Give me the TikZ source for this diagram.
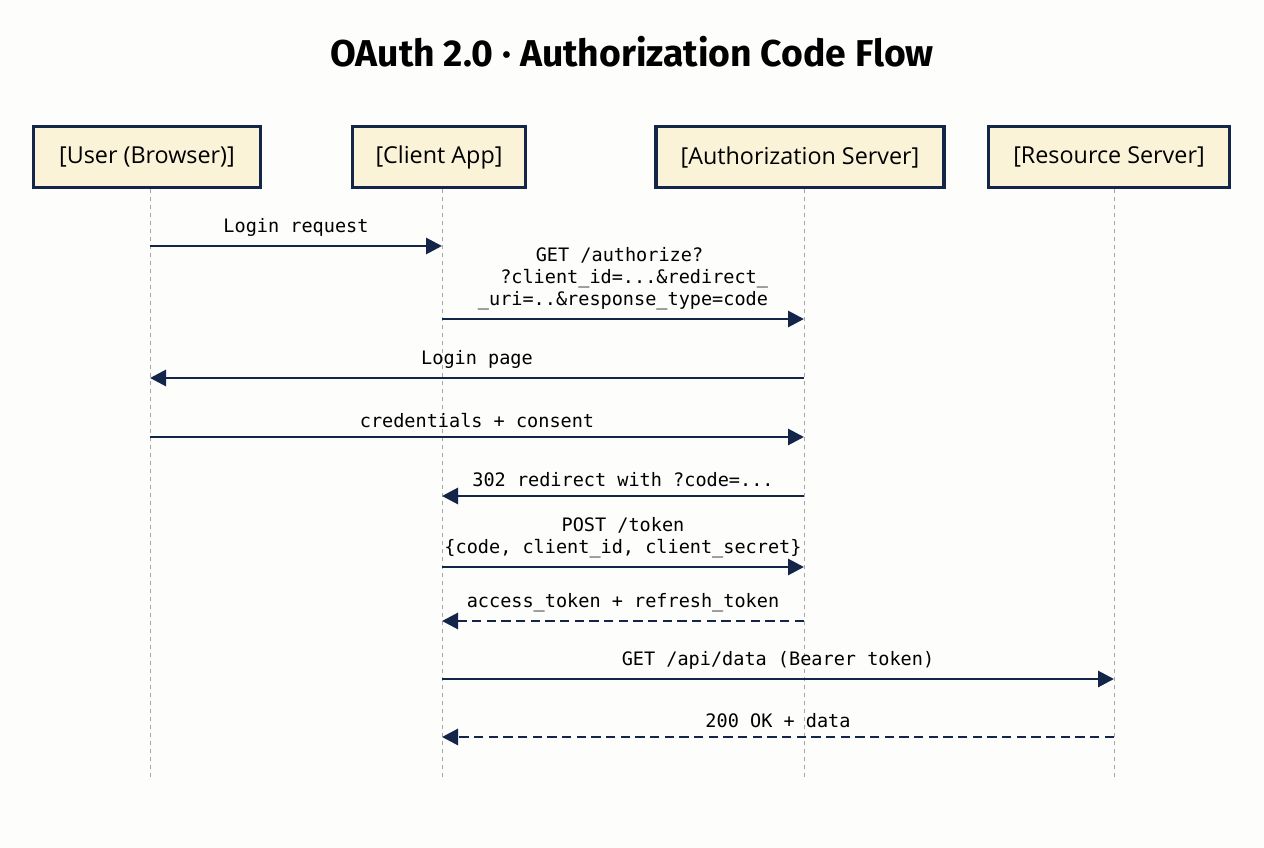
\documentclass[tikz,border=0pt]{standalone}
\usepackage{fontspec}
\setmainfont{Open Sans}
\newfontfamily\titlefont{Fira Sans}
\newfontfamily\monofont{DejaVu Sans Mono}
\usetikzlibrary{arrows.meta,positioning,calc}
\definecolor{navy}{HTML}{14254A}
\definecolor{boxFill}{HTML}{FBF3D7}
\definecolor{bgColor}{HTML}{FDFDFB}
\tikzset{
	actor/.style={draw=navy, line width=2.6pt, fill=boxFill, minimum height=46pt, inner xsep=0pt, font=\fontsize{17.5}{20}\selectfont},
	life/.style={gray!70, dashed, line width=0.7pt},
	msg/.style={navy, line width=2.2pt, -{Triangle[length=12pt,width=12pt]}},
	reply/.style={msg, dash pattern=on 7pt off 4pt},
	lbl/.style={font=\monofont\fontsize{13.9}{16.5}\selectfont, text=black, align=center, inner sep=1pt}
}
\begin{document}
\begin{tikzpicture}[x=0.75pt,y=-0.75pt]
	\fill[bgColor] (0,0) rectangle (1264,848);
	\useasboundingbox (0,0) rectangle (1264,848);
	\node[font=\titlefont\bfseries\fontsize{28}{32}\selectfont] (title) at (632,52) {OAuth 2.0 · Authorization Code Flow};
	
	\node[actor, minimum width=170pt] (user) at (147,157) {[User (Browser)]};
	\node[actor, minimum width=130pt] (client) at (439,157) {[Client App]};
	\node[actor, minimum width=216pt] (auth) at (800,157) {[Authorization Server]};
	\node[actor, minimum width=181pt] (res) at (1109,157) {[Resource Server]};
	
	% lifelines
	\coordinate (uB) at (150,780);
	\coordinate (cB) at (442,780);
	\coordinate (aB) at (804,780);
	\coordinate (rB) at (1114,780);
	\draw[life] (user.south -| uB) -- (uB);
	\draw[life] (client.south -| cB) -- (cB);
	\draw[life] (auth.south -| aB) -- (aB);
	\draw[life] (res.south -| rB) -- (rB);
	
	% messages
	\draw[msg] (uB |- 0,246) -- node[lbl, above=5pt] {Login request} (cB |- 0,246);
	\draw[msg] (cB |- 0,319) -- node[lbl, above=5pt, align=right] {GET /authorize?\hspace*{3.5em}\\ ?client\_id=...\&redirect\_\\\_uri=..\&response\_type=code} (aB |- 0,319);
	\draw[msg] (aB |- 0,378) -- node[lbl, above=5pt] {Login page} (uB |- 0,378);
	\draw[msg] (uB |- 0,437) -- node[lbl, above=5pt] {credentials + consent} (aB |- 0,437);
	\draw[msg] (aB |- 0,496) -- node[lbl, above=5pt] {302 redirect with ?code=...} (cB |- 0,496);
	\draw[msg] (cB |- 0,567) -- node[lbl, above=5pt] {POST /token\\\{code, client\_id, client\_secret\}} (aB |- 0,567);
	\draw[reply] (aB |- 0,621) -- node[lbl, above=5pt] {access\_token + refresh\_token} (cB |- 0,621);
	\draw[msg] (cB |- 0,679) -- node[lbl, above=5pt] {GET /api/data (Bearer token)} (rB |- 0,679);
	\draw[reply] (rB |- 0,737) -- node[lbl, above=5pt] {200 OK + data} (cB |- 0,737);
\end{tikzpicture}
\end{document}
